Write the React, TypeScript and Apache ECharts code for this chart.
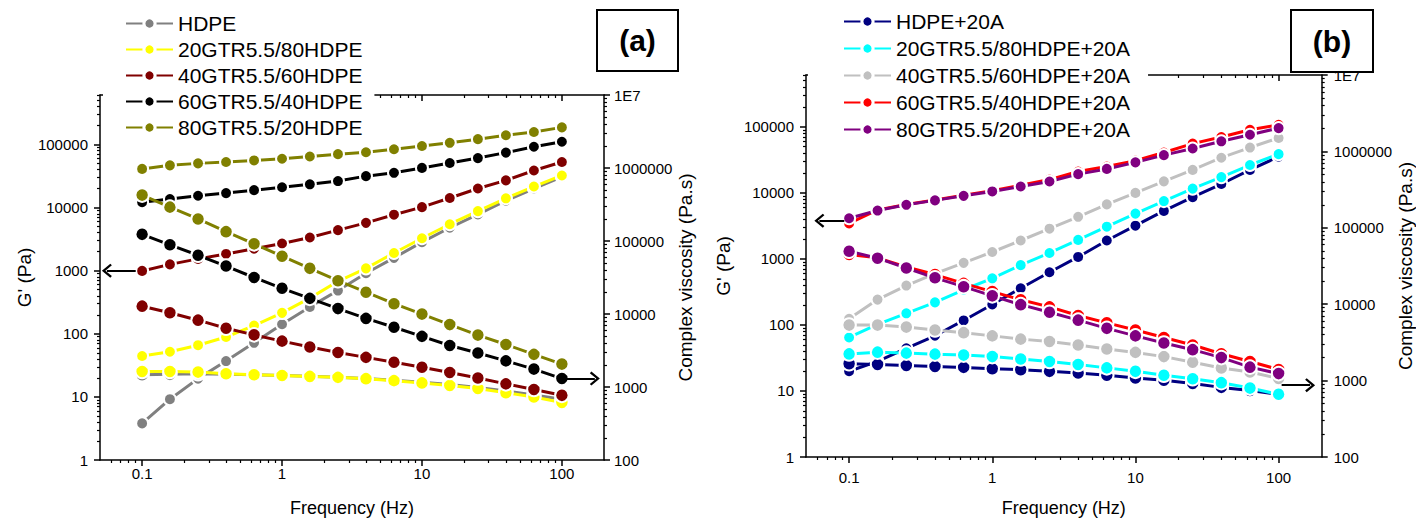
import React, { useEffect, useRef } from 'react';
import * as echarts from 'echarts';

const FONT = '"Liberation Sans", Arial, Helvetica, sans-serif';

// Frequencies (Hz), 5 points per decade
const freq = [0.1, 0.158, 0.251, 0.398, 0.631, 1, 1.58, 2.51, 3.98, 6.31, 10, 15.8, 25.1, 39.8, 63.1, 100];

// ---------- Panel (a) ----------
const namesA = ['HDPE', '20GTR5.5/80HDPE', '40GTR5.5/60HDPE', '60GTR5.5/40HDPE', '80GTR5.5/20HDPE'];
const colorsA = ['#808080', '#FFFF00', '#800000', '#000000', '#808000'];
// G' (Pa)
const gA_HDPE = [3.8, 9.2, 19.5, 37, 72, 142, 267, 485, 912, 1600, 2840, 4800, 7800, 12900, 20100, 30700];
const gA_20 = [44.5, 52, 66, 89, 135, 215, 368, 680, 1090, 1910, 3270, 5460, 8820, 14060, 21600, 32350];
const gA_40 = [993, 1260, 1540, 1845, 2230, 2705, 3360, 4400, 5740, 7730, 10180, 14200, 20100, 27040, 38730, 52860];
const gA_60 = [12170, 13700, 15420, 16990, 18920, 21060, 23440, 26380, 31570, 35630, 42640, 51000, 61000, 74500, 92400, 110600];
const gA_80 = [41130, 46800, 50300, 52900, 56000, 59500, 64600, 70400, 75600, 84200, 94800, 106600, 121700, 140500, 158200, 187100];
// Complex viscosity (Pa.s)
const etaA_HDPE = [1470, 1490, 1520, 1500, 1470, 1440, 1400, 1355, 1310, 1240, 1160, 1080, 985, 880, 775, 680];
const etaA_20 = [1630, 1630, 1600, 1518, 1472, 1440, 1396, 1355, 1300, 1222, 1138, 1047, 955, 836, 730, 614];
const etaA_40 = [12800, 10400, 8230, 6390, 5180, 4250, 3530, 2970, 2545, 2180, 1867, 1580, 1328, 1104, 925, 769];
const etaA_60 = [123400, 88700, 63800, 45400, 31620, 22490, 16360, 11860, 8700, 6590, 4940, 3700, 2920, 2280, 1760, 1305];
const etaA_80 = [425600, 291000, 200500, 134200, 91400, 61900, 42200, 28570, 19870, 13840, 9970, 7160, 5140, 3820, 2800, 2060];

// ---------- Panel (b) ----------
const namesB = ['HDPE+20A', '20GTR5.5/80HDPE+20A', '40GTR5.5/60HDPE+20A', '60GTR5.5/40HDPE+20A', '80GTR5.5/20HDPE+20A'];
const colorsB = ['#000080', '#00FFFF', '#C0C0C0', '#FF0000', '#800080'];
const gB_HDPE = [19.9, 28, 44.3, 68.5, 117, 204, 360, 629, 1071, 1900, 3185, 5330, 8630, 13620, 22280, 35300];
const gB_20 = [64.6, 102, 150, 220, 341, 508, 805, 1230, 1940, 3076, 4860, 7520, 11590, 17330, 26430, 38600];
const gB_40 = [124, 242, 395, 597, 871, 1272, 1900, 2870, 4340, 6690, 10000, 14950, 22280, 34100, 48600, 67800];
const gB_60 = [3445, 5520, 6690, 7780, 9240, 10820, 13030, 15900, 21080, 25060, 30790, 40930, 55740, 70200, 90200, 107100];
const gB_80 = [4130, 5400, 6600, 7700, 9020, 10520, 12500, 14850, 19230, 23060, 29000, 37300, 46950, 60400, 76000, 95700];
const etaB_HDPE = [1660, 1626, 1580, 1534, 1489, 1432, 1390, 1322, 1256, 1175, 1084, 1012, 918, 815, 741, 662];
const etaB_20 = [2235, 2357, 2290, 2220, 2157, 2062, 1916, 1778, 1626, 1467, 1322, 1175, 1057, 940, 798, 662];
const etaB_40 = [5330, 5330, 5020, 4590, 4240, 3850, 3490, 3250, 2920, 2590, 2340, 2060, 1740, 1460, 1295, 1064];
const etaB_60 = [44770, 40460, 30690, 24430, 18710, 14620, 11430, 9230, 7110, 5700, 4590, 3660, 2920, 2250, 1780, 1400];
const etaB_80 = [49350, 40000, 29800, 22150, 16950, 12870, 9860, 7840, 6180, 4830, 3850, 3100, 2540, 2000, 1500, 1235];

// ---------- Axes ----------
const X_MIN = 0.05;
const X_MAX = 200;
const YL_MIN = 1;
const YL_MAX = 610000;
const YR_MIN = 100;
const YR_MAX = 10000000;
const xMajor = [0.1, 1, 10, 100];
const yLeftMajor = [1, 10, 100, 1000, 10000, 100000];
const yRightMajor = [100, 1000, 10000, 100000, 1000000, 10000000];
const minorMultipliers = [2, 3, 4, 5, 6, 7, 8, 9];

function minorTicks(min: number, max: number): number[] {
  const out: number[] = [];
  for (let e = -3; e <= 8; e++) {
    for (const m of minorMultipliers) {
      const v = +(m * Math.pow(10, e)).toPrecision(6);
      if (v > min && v < max) out.push(v);
    }
  }
  return out;
}
const xMinor = minorTicks(X_MIN, X_MAX);
const yLeftMinor = minorTicks(YL_MIN, YL_MAX);
const yRightMinor = minorTicks(YR_MIN, YR_MAX);

// Arrow annotations (data coordinates)
const arrowA_left = [[0.09, 1000], [0.056, 1000]];
const arrowA_right = [[106, 1305], [172, 1305]];
const arrowB_left = [[0.0925, 3800], [0.062, 3800]];
const arrowB_right = [[105, 870], [166, 870]];

const CHEVRON = 'path://M6,0 L12,7 L10.6,8.3 L6,2.9 L1.4,8.3 L0,7 Z';

const fmt = (v: number) => {
  if (v >= 9999999) return '1E7';
  if (v < 1) return String(+v.toPrecision(3));
  return String(Math.round(v));
};

const black = '#000';
const tickLine = { color: black, width: 1.5 };
const minorLine = { color: black, width: 1.2 };

function xAxesFor(grid: number, labelMargin: number, nameGap: number) {
  const base = {
    type: 'log', logBase: 10, gridIndex: grid, min: X_MIN, max: X_MAX,
    splitLine: { show: false }, minorTick: { show: false }, minorSplitLine: { show: false },
  };
  return [
    {
      ...base, position: 'bottom',
      axisLine: { show: true, onZero: false, lineStyle: tickLine },
      axisTick: { show: true, inside: false, length: 6, customValues: xMajor, lineStyle: tickLine },
      axisLabel: { show: true, customValues: xMajor, formatter: fmt, margin: labelMargin, fontSize: 15, fontFamily: FONT, color: black },
      name: 'Frequency (Hz)', nameLocation: 'middle', nameGap,
      nameTextStyle: { fontSize: 18, fontFamily: FONT, color: black },
    },
    {
      ...base, position: 'bottom',
      axisLine: { show: false, onZero: false },
      axisTick: { show: true, inside: false, length: 3, customValues: xMinor, lineStyle: minorLine },
      axisLabel: { show: false },
    },
    {
      ...base, position: 'top',
      axisLine: { show: true, onZero: false, lineStyle: tickLine },
      axisTick: { show: true, inside: true, length: 6, customValues: xMajor, lineStyle: tickLine },
      axisLabel: { show: false },
    },
    {
      ...base, position: 'top',
      axisLine: { show: false, onZero: false },
      axisTick: { show: true, inside: true, length: 3, customValues: xMinor, lineStyle: minorLine },
      axisLabel: { show: false },
    },
  ];
}

function yAxesFor(grid: number, leftGap: number, rightGap: number, leftMargin: number, rightMargin: number) {
  const common = { type: 'log', logBase: 10, gridIndex: grid, splitLine: { show: false }, minorTick: { show: false }, minorSplitLine: { show: false } };
  const nameStyle = { fontSize: 19, fontFamily: FONT, color: black };
  const lbl = { fontSize: 15, fontFamily: FONT, color: black, formatter: fmt };
  return [
    {
      ...common, position: 'left', min: YL_MIN, max: YL_MAX,
      axisLine: { show: true, onZero: false, lineStyle: tickLine },
      axisTick: { show: true, inside: false, length: 6, customValues: yLeftMajor, lineStyle: tickLine },
      axisLabel: { ...lbl, show: true, customValues: yLeftMajor, margin: leftMargin },
      name: "G' (Pa)", nameLocation: 'middle', nameRotate: 90, nameGap: leftGap, nameTextStyle: nameStyle,
    },
    {
      ...common, position: 'left', min: YL_MIN, max: YL_MAX,
      axisLine: { show: false, onZero: false },
      axisTick: { show: true, inside: false, length: 3, customValues: yLeftMinor, lineStyle: minorLine },
      axisLabel: { show: false },
    },
    {
      ...common, position: 'right', min: YR_MIN, max: YR_MAX,
      axisLine: { show: true, onZero: false, lineStyle: tickLine },
      axisTick: { show: true, inside: false, length: 6, customValues: yRightMajor, lineStyle: tickLine },
      axisLabel: { ...lbl, show: true, customValues: yRightMajor, margin: rightMargin },
      name: 'Complex viscosity (Pa.s)', nameLocation: 'middle', nameRotate: 90, nameGap: rightGap, nameTextStyle: nameStyle,
    },
    {
      ...common, position: 'right', min: YR_MIN, max: YR_MAX,
      axisLine: { show: false, onZero: false },
      axisTick: { show: true, inside: false, length: 3, customValues: yRightMinor, lineStyle: minorLine },
      axisLabel: { show: false },
    },
  ];
}

function arrowMark(coords: number[][]) {
  return {
    silent: true,
    animation: false,
    symbol: ['none', CHEVRON],
    symbolSize: [14, 10],
    lineStyle: { color: black, width: 2, type: 'solid' },
    itemStyle: { color: black },
    label: { show: false },
    emphasis: { disabled: true },
    data: [[{ coord: coords[0] }, { coord: coords[1] }]],
  };
}

function lineSeries(name: string, color: string, vals: number[], xi: number, yi: number, size: number, mark?: any) {
  const s: any = {
    type: 'line', name, xAxisIndex: xi, yAxisIndex: yi,
    data: freq.map((f, i) => [f, vals[i]]),
    symbol: 'circle', symbolSize: size, showSymbol: true, showAllSymbol: true,
    lineStyle: { color, width: 3 },
    itemStyle: { color, borderColor: '#ffffff', borderWidth: 2 },
    emphasis: { disabled: true },
    silent: true,
    animation: false,
  };
  if (mark) s.markLine = mark;
  return s;
}

function legendFor(names: string[], left: number, top: number, padding: number[], gap: number) {
  return {
    data: names, orient: 'vertical', left, top, padding, itemGap: gap,
    itemWidth: 47, itemHeight: 14, backgroundColor: '#ffffff', selectedMode: false,
    itemStyle: { borderColor: '#ffffff', borderWidth: 3 },
    textStyle: { fontSize: 21, fontFamily: FONT, color: black, lineHeight: 21 },
    z: 5,
  };
}

function buildOption() {
  const gA = [gA_HDPE, gA_20, gA_40, gA_60, gA_80];
  const eA = [etaA_HDPE, etaA_20, etaA_40, etaA_60, etaA_80];
  const gB = [gB_HDPE, gB_20, gB_40, gB_60, gB_80];
  const eB = [etaB_HDPE, etaB_20, etaB_40, etaB_60, etaB_80];
  const series: any[] = [];
  namesA.forEach((n, i) => {
    series.push(lineSeries(n, colorsA[i], gA[i], 0, 0, 12, i === 2 ? arrowMark(arrowA_left) : undefined));
    series.push(lineSeries(n, colorsA[i], eA[i], 0, 2, 13.5, i === 3 ? arrowMark(arrowA_right) : undefined));
  });
  namesB.forEach((n, i) => {
    series.push(lineSeries(n, colorsB[i], gB[i], 4, 4, 12, i === 3 ? arrowMark(arrowB_left) : undefined));
    series.push(lineSeries(n, colorsB[i], eB[i], 4, 6, 13.5, i === 0 ? arrowMark(arrowB_right) : undefined));
  });

  const boxA = { x: 597, y: 10, w: 81, h: 61 };
  const boxB = { x: 1291, y: 10, w: 82, h: 62 };
  const panelLabel = (b: any, t: string) => [
    { type: 'rect', z: 100, shape: { x: b.x, y: b.y, width: b.w, height: b.h }, style: { fill: '#ffffff', stroke: black, lineWidth: 2 } },
    { type: 'text', z: 101, x: b.x + b.w / 2, y: b.y + b.h / 2, style: { text: t, fill: black, font: `bold 30px ${FONT}`, textAlign: 'center', textVerticalAlign: 'middle' } },
  ];

  return {
    animation: false,
    backgroundColor: '#ffffff',
    grid: [
      { left: 100, top: 95, width: 504, height: 372, containLabel: false },
      { left: 806, top: 75, width: 524, height: 388, containLabel: false },
    ],
    xAxis: [...xAxesFor(0, 6, 39), ...xAxesFor(1, 13, 42)],
    yAxis: [...yAxesFor(0, 66, 68, 12, 10), ...yAxesFor(1, 73, 66, 12, 12)],
    legend: [
      legendFor(namesA, 103, 5, [8, 12, 8, 22], 5),
      legendFor(namesB, 808, 3, [8, 18, 8, 35], 6),
    ],
    graphic: [...panelLabel(boxA, '(a)'), ...panelLabel(boxB, '(b)')],
    series,
  };
}

export default function App() {
  const ref = useRef<HTMLDivElement>(null);
  useEffect(() => {
    if (!ref.current) return;
    const chart = echarts.init(ref.current, undefined, { renderer: 'svg' });
    chart.setOption(buildOption() as any);
    return () => chart.dispose();
  }, []);
  return (
    <div
      ref={ref}
      style={{ position: 'fixed', left: 0, top: 0, width: 1416, height: 522, background: '#ffffff' }}
    />
  );
}
